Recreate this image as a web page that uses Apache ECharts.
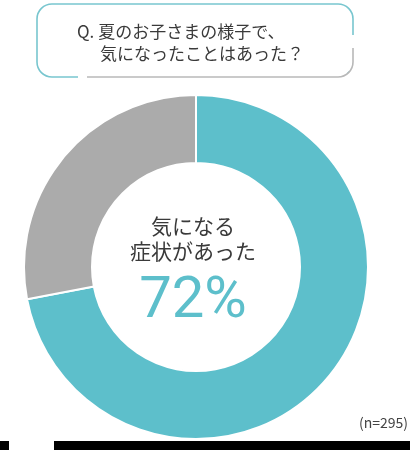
<!DOCTYPE html>
<html>
<head>
<meta charset="utf-8">
<script src="https://cdn.jsdelivr.net/npm/echarts@6/dist/echarts.min.js"></script>
<style>
  html, body { margin: 0; padding: 0; background: #fff; }
  #chart { width: 410px; height: 450px; }
</style>
</head>
<body>
<div id="chart"></div>
<script>
// data
var categories = ['気になる症状があった', 'なかった'];
var values = [72, 28];
var colors = ['#5dbfcb', '#ababab'];
var questionLines = ['Q. 夏のお子さまの様子で、', '気になったことはあった？'];
var centerLines = ['気になる', '症状があった'];
var sampleNote = '(n=295)';

var chart = echarts.init(document.getElementById('chart'), null, { renderer: 'canvas' });

var textFont = '"Noto Sans CJK JP", "Noto Sans", sans-serif';
var boxTeal = '#78c6cf';
var boxGray = '#b8b8b8';

var option = {
  animation: false,
  backgroundColor: '#fff',
  series: [{
    type: 'pie',
    silent: true,
    center: [196, 267],
    radius: [104, 172],
    startAngle: 90,
    clockwise: true,
    label: { show: false },
    labelLine: { show: false },
    itemStyle: { borderColor: '#fff', borderWidth: 2 },
    data: categories.map(function (name, i) {
      return { name: name, value: values[i], itemStyle: { color: colors[i] } };
    })
  }],
  graphic: [
    // question box: teal outline, then the lower right part repainted gray
    {
      type: 'rect',
      shape: { x: 37, y: 4, width: 316, height: 73, r: 15 },
      style: { fill: null, stroke: boxTeal, lineWidth: 1.6 }
    },
    { type: 'rect', shape: { x: 349, y: 35, width: 8, height: 46 }, style: { fill: '#fff' } },
    { type: 'rect', shape: { x: 78, y: 73, width: 279, height: 8 }, style: { fill: '#fff' } },
    { type: 'line', shape: { x1: 353, y1: 48, x2: 353, y2: 62 }, style: { stroke: boxGray, lineWidth: 1.6 } },
    {
      type: 'arc',
      shape: { cx: 338, cy: 62, r: 15, startAngle: 0, endAngle: Math.PI / 2, clockwise: true },
      style: { fill: null, stroke: boxGray, lineWidth: 1.6 }
    },
    { type: 'line', shape: { x1: 338, y1: 77, x2: 87, y2: 77 }, style: { stroke: boxGray, lineWidth: 1.6 } },
    {
      type: 'text', x: 77, y: 32,
      style: { text: questionLines[0], fill: '#3a3a3a', font: '17px ' + textFont, align: 'left', verticalAlign: 'middle' }
    },
    {
      type: 'text', x: 100, y: 54,
      style: { text: questionLines[1], fill: '#3a3a3a', font: '17px ' + textFont, align: 'left', verticalAlign: 'middle' }
    },
    {
      type: 'text', x: 193, y: 226,
      style: { text: centerLines[0], fill: '#3a3a3a', font: '21px ' + textFont, align: 'center', verticalAlign: 'middle' }
    },
    {
      type: 'text', x: 193, y: 251,
      style: { text: centerLines[1], fill: '#3a3a3a', font: '21px ' + textFont, align: 'center', verticalAlign: 'middle' }
    },
    {
      type: 'text', x: 193, y: 302,
      style: { text: values[0] + '%', fill: colors[0], font: '58px Roboto, "Noto Sans", sans-serif', align: 'center', verticalAlign: 'middle' }
    },
    {
      type: 'text', x: 408, y: 423,
      style: { text: sampleNote, fill: '#444', font: '14px ' + textFont, align: 'right', verticalAlign: 'middle' }
    },
    // black strips at bottom edge
    { type: 'rect', shape: { x: 0, y: 441, width: 9, height: 9 }, style: { fill: '#000' } },
    { type: 'rect', shape: { x: 54, y: 441, width: 356, height: 9 }, style: { fill: '#000' } }
  ]
};

chart.setOption(option);
</script>
</body>
</html>
